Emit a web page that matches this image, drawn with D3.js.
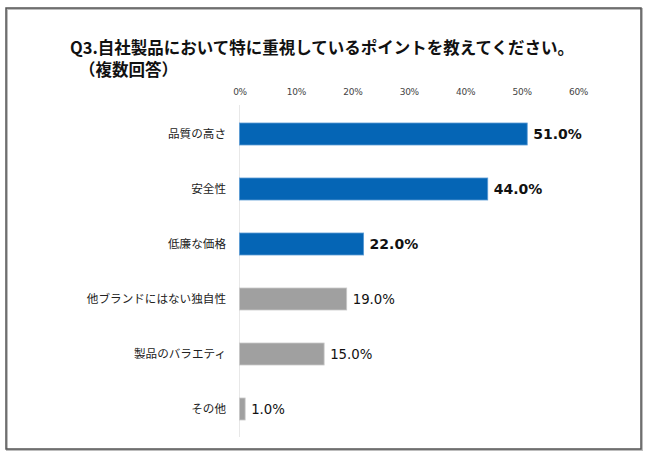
<!DOCTYPE html>
<html><head><meta charset="utf-8">
<script src="https://cdn.jsdelivr.net/npm/d3@7/dist/d3.min.js"></script>
<style>body{margin:0;background:#fff;}svg{display:block;font-family:"Noto Sans CJK JP","Noto Sans",sans-serif;}</style>
</head><body><svg id="c" width="650" height="457"></svg>
<script>
const categories = ["品質の高さ","安全性","低廉な価格","他ブランドにはない独自性","製品のバラエティ","その他"];
const values = [51.0, 44.0, 22.0, 19.0, 15.0, 1.0];
const highlighted = [true, true, true, false, false, false];
const tickValues = [0,10,20,30,40,50,60];
const titleLine1 = "Q3.自社製品において特に重視しているポイントを教えてください。";
const titleLine2 = "（複数回答）";

const svg = d3.select("#c");
// frame
svg.append("rect").attr("x",7).attr("y",9).attr("width",635).attr("height",441)
  .attr("fill","none").attr("stroke","#bdbdbd").attr("stroke-width",2);
svg.append("rect").attr("x",6).attr("y",8).attr("width",635).attr("height",441)
  .attr("fill","none").attr("stroke","#555").attr("stroke-width",1.5);

svg.append("text").attr("x",70).attr("y",54).attr("font-size",16.5).attr("font-weight","bold")
  .attr("fill","#111").text(titleLine1);
svg.append("text").attr("x",79).attr("y",76).attr("font-size",16.5).attr("font-weight","bold")
  .attr("fill","#111").text(titleLine2);

const x = d3.scaleLinear().domain([0,60]).range([239.5,578]);
const y = d3.scaleBand().domain(categories).range([106.5,436.5]).paddingInner(0.6).paddingOuter(0.3);

// axis
const ax = svg.append("g").attr("transform","translate(0,98)")
  .call(d3.axisTop(x).tickValues(tickValues).tickSize(0).tickFormat(d=>d+"%"));
ax.select(".domain").remove();
ax.selectAll("text").attr("font-size",9).attr("fill","#444").attr("font-family","DejaVu Sans, sans-serif").attr("letter-spacing","-0.3");

// zero line
svg.append("line").attr("x1",x(0)).attr("x2",x(0)).attr("y1",105).attr("y2",437)
  .attr("stroke","#e8e8e8").attr("stroke-width",1);

const g = svg.append("g");
g.selectAll("rect.bar").data(categories).enter().append("rect").attr("class","bar")
  .attr("x",x(0)).attr("y",d=>y(d)).attr("height",y.bandwidth())
  .attr("width",(d,i)=>x(values[i])-x(0))
  .attr("fill",(d,i)=>highlighted[i]?"#0565b5":"#a0a0a0")
  .attr("stroke",(d,i)=>highlighted[i]?"#5a9bd5":"#c8c8c8").attr("stroke-width",0.8);

g.selectAll("text.cat").data(categories).enter().append("text").attr("class","cat")
  .attr("x",226).attr("y",d=>y(d)+y.bandwidth()/2).attr("dy","0.35em")
  .attr("text-anchor","end").attr("font-size",11.6).attr("fill","#222").text(d=>d);

g.selectAll("text.val").data(categories).enter().append("text").attr("class","val")
  .attr("x",(d,i)=>x(values[i])+6).attr("y",d=>y(d)+y.bandwidth()/2).attr("dy","0.36em")
  .attr("font-size",(d,i)=>highlighted[i]?14:13.3)
  .attr("font-weight",(d,i)=>highlighted[i]?"bold":"normal")
  .attr("font-family","DejaVu Sans, sans-serif")
  .attr("fill","#111").text((d,i)=>values[i].toFixed(1)+"%");
</script></body></html>
